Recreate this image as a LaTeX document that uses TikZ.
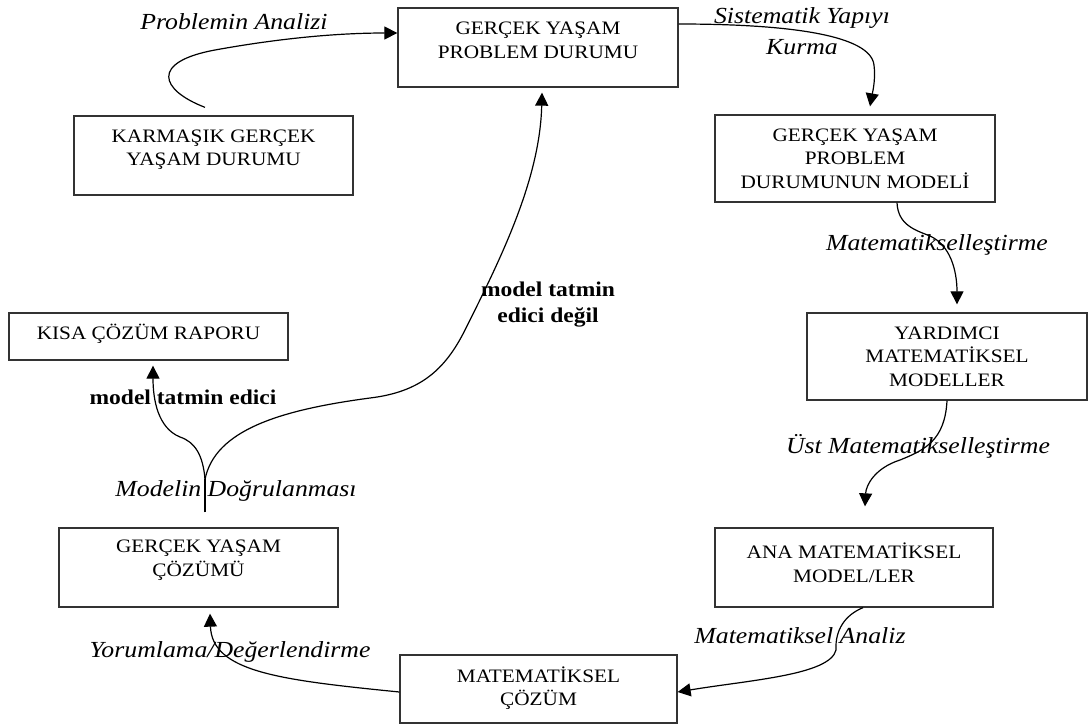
\documentclass[tikz,border=0pt]{standalone}
\usepackage{fontspec}
\setmainfont{Liberation Serif}[FakeStretch=1.12]
\usetikzlibrary{arrows.meta,calc}
\begin{document}
\begin{tikzpicture}[x=1pt,y=-1pt,
  box/.style={draw=black!80,line width=1.3pt,minimum width=280pt,inner sep=0pt},
  boxtext/.style={align=center,font=\fontsize{19}{23.5}\selectfont,inner sep=0pt},
  itl/.style={font=\fontsize{23}{31}\selectfont\itshape,inner sep=0pt,align=center},
  bld/.style={font=\fontsize{21}{26}\selectfont\bfseries,inner sep=0pt,align=center},
  conn/.style={line width=1.2pt,-{Triangle[length=13pt,width=13pt]}},
  plain/.style={line width=1.2pt}]
\useasboundingbox (0,0) rectangle (1090,726);

% boxes
\node[box,minimum height=79pt] (b1) at (538,47.5) {};
\node[boxtext] (t1) at ($(b1.center)+(0,-7)$) {GERÇEK YAŞAM\\PROBLEM DURUMU};
\node[box,minimum width=279pt,minimum height=79pt] (b2) at (213.5,155.5) {};
\node[boxtext] (t2) at ($(b2.center)+(0,-6)$) {KARMAŞIK GERÇEK\\YAŞAM DURUMU};
\node[box,minimum height=87pt] (b3) at (855,158.5) {};
\node[boxtext] (t3) at (b3.center) {GERÇEK YAŞAM\\PROBLEM\\DURUMUNUN MODELİ};
\node[box,minimum width=279pt,minimum height=47pt] (b4) at (148.5,336.5) {};
\node[boxtext] (t4) at ($(b4.center)+(0,-3)$) {KISA ÇÖZÜM RAPORU};
\node[box,minimum height=87pt] (b5) at (947,356.5) {};
\node[boxtext] (t5) at (b5.center) {YARDIMCI\\MATEMATİKSEL\\MODELLER};
\node[box,minimum width=279pt,minimum height=79pt] (b6) at (198.5,567.5) {};
\node[boxtext] (t6) at ($(b6.center)+(0,-7.5)$) {GERÇEK YAŞAM\\ÇÖZÜMÜ};
\node[box,minimum width=278pt,minimum height=79pt] (b7) at (854,567.5) {};
\node[boxtext] (t7) at ($(b7.center)+(0,-5)$) {ANA MATEMATİKSEL\\MODEL/LER};
\node[box,minimum width=277pt,minimum height=68pt] (b8) at (538.5,689) {};
\node[boxtext] (t8) at ($(b8.center)+(0,-1)$) {MATEMATİKSEL\\ÇÖZÜM};

% labels
\node[itl] (l1) at (234,22) {Problemin Analizi};
\node[itl] (l2) at (802,31) {Sistematik Yapıyı\\Kurma};
\node[itl] (l3) at (937,245) {Matematikselleştirme};
\node[itl] (l4) at (918,446) {Üst Matematikselleştirme};
\node[itl] (l5) at (800,636) {Matematiksel Analiz};
\node[itl] (l6) at (230,652) {Yorumlama/Değerlendirme};
\node[itl] (l7) at (236,491) {Modelin Doğrulanması};
\node[bld] (l8) at (183,397) {model tatmin edici};
\node[bld] (l9) at (548,305) {model tatmin\\edici değil};

% connectors
\draw[conn] ($(b2.north)+(-8.5,-8)$) .. controls (160,90) and (150,62) .. (215,50)
  .. controls (270,40) and (330,33) .. ($(b1.west)+(0,-14.5)$);
\draw[conn] ($(b1.east)+(0,-23.5)$) .. controls (760,24) and (870,30) .. (874,65)
  .. controls (876,80) and (872,95) .. ($(b3.north)+(15,-8)$);
\draw[conn] ($(b3.south)+(42,0)$) .. controls (898,225) and (915,230) .. (930,236)
  .. controls (950,245) and (957,270) .. ($(b5.north)+(10,-8)$);
\draw[conn] (b5.south) .. controls (945,440) and (925,450) .. (900,460)
  .. controls (875,468) and (866,485) .. ($(b7.north)+(11,-21)$);
\draw[conn] ($(b7.south)+(9,0)$) .. controls (845,615) and (835,630) .. (836,650)
  .. controls (830,675) and (750,680) .. ($(b8.east)+(0,3)$);
\draw[conn] ($(b8.west)+(0,3)$) .. controls (280,680) and (212,672) .. ($(b6.south)+(11.5,6)$);
\coordinate (stem) at ($(b6.north)+(6.5,-15)$);
\coordinate (split) at ($(b6.north)+(6.5,-48)$);
\draw[plain] (stem) -- (split);
\draw[conn] (split) .. controls (203,455) and (195,442) .. (180,437)
  .. controls (158,428) and (153,400) .. ($(b4.south)+(4.5,5)$);
\draw[conn] (split) .. controls (215,430) and (280,410) .. (370,398)
  .. controls (420,392) and (445,370) .. (465,330)
  .. controls (500,260) and (540,180) .. ($(b1.south)+(4,5)$);
\end{tikzpicture}
\end{document}
